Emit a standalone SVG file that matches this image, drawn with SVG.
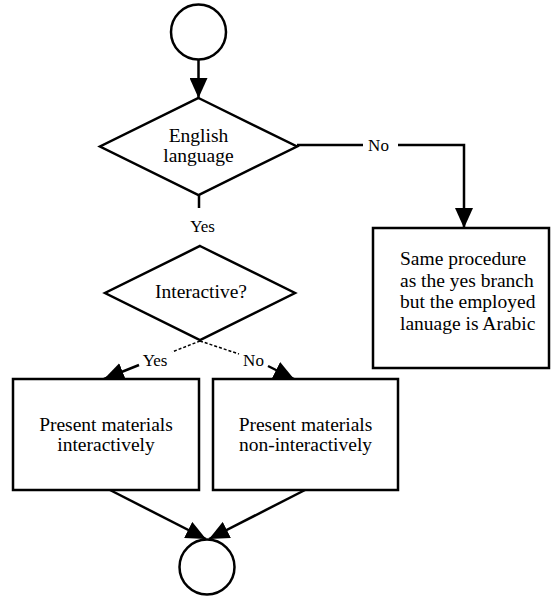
<svg xmlns="http://www.w3.org/2000/svg" width="552" height="596" viewBox="0 0 552 596">
<style>
.shape{fill:#fff;stroke:#000;stroke-width:2.5}
.ln{fill:none;stroke:#000;stroke-width:2.5}
.dash{fill:none;stroke:#000;stroke-width:1.5;stroke-dasharray:3 2}
.t{font-size:19.5px;text-anchor:middle}
.lbl{font-size:17px;text-anchor:middle}
.tl{font-size:19.5px}
</style>
<defs>
<marker id="arr" markerUnits="userSpaceOnUse" markerWidth="20" markerHeight="18" refX="20" refY="9" orient="auto">
<path d="M0,0 L20,9 L0,18 z" fill="#000"/>
</marker>
</defs>
<rect width="552" height="596" fill="#fff"/>
<g id="connectors">
<line class="ln" x1="198.5" y1="60" x2="198.5" y2="98" marker-end="url(#arr)"/>
<polyline class="ln" points="297,145 363,145"/>
<polyline class="ln" points="398,145 464,145 464,228" marker-end="url(#arr)"/>
<line class="ln" x1="199" y1="195" x2="199" y2="208"/>
<line class="dash" x1="200" y1="341" x2="172" y2="352"/>
<line class="ln" x1="139" y1="365" x2="104" y2="379" marker-end="url(#arr)"/>
<line class="dash" x1="200" y1="341" x2="239" y2="354"/>
<line class="ln" x1="268" y1="366" x2="294" y2="379" marker-end="url(#arr)"/>
<line class="ln" x1="110" y1="490" x2="206" y2="539" marker-end="url(#arr)"/>
<line class="ln" x1="305" y1="490" x2="209" y2="539" marker-end="url(#arr)"/>
<text class="lbl" x="378.5" y="151" font-family="Liberation Serif">No</text>
<text class="lbl" x="202.5" y="232" font-family="Liberation Serif">Yes</text>
<text class="lbl" x="155" y="366" font-family="Liberation Serif">Yes</text>
<text class="lbl" x="253.5" y="366" font-family="Liberation Serif">No</text>
</g>
<g id="start">
<circle class="shape" cx="198.5" cy="32" r="27.5"/>
</g>
<g id="english">
<polygon class="shape" points="198.5,98 297,146.5 198.5,195 100,146.5"/>
<text class="t" x="198.5" y="142" font-family="Liberation Serif">English</text>
<text class="t" x="198.5" y="162" font-family="Liberation Serif">language</text>
</g>
<g id="interactive">
<polygon class="shape" points="200,246 295,293 200,340 105,293"/>
<text class="t" x="201" y="298" font-family="Liberation Serif">Interactive?</text>
</g>
<g id="arabic">
<rect class="shape" x="373" y="228" width="176" height="140"/>
<text class="tl" x="400" y="265" font-family="Liberation Serif">Same procedure</text>
<text class="tl" x="400" y="286.5" font-family="Liberation Serif">as the yes branch</text>
<text class="tl" x="400" y="308" font-family="Liberation Serif">but the employed</text>
<text class="tl" x="400" y="329.5" font-family="Liberation Serif">lanuage is Arabic</text>
</g>
<g id="present-interactive">
<rect class="shape" x="13" y="379" width="186" height="111"/>
<text class="t" x="106" y="431" font-family="Liberation Serif">Present materials</text>
<text class="t" x="106" y="451" font-family="Liberation Serif">interactively</text>
</g>
<g id="present-noninteractive">
<rect class="shape" x="213" y="379" width="185" height="111"/>
<text class="t" x="305.5" y="431" font-family="Liberation Serif">Present materials</text>
<text class="t" x="305.5" y="451" font-family="Liberation Serif">non-interactively</text>
</g>
<g id="end">
<circle class="shape" cx="207" cy="567" r="27.5"/>
</g>
</svg>
